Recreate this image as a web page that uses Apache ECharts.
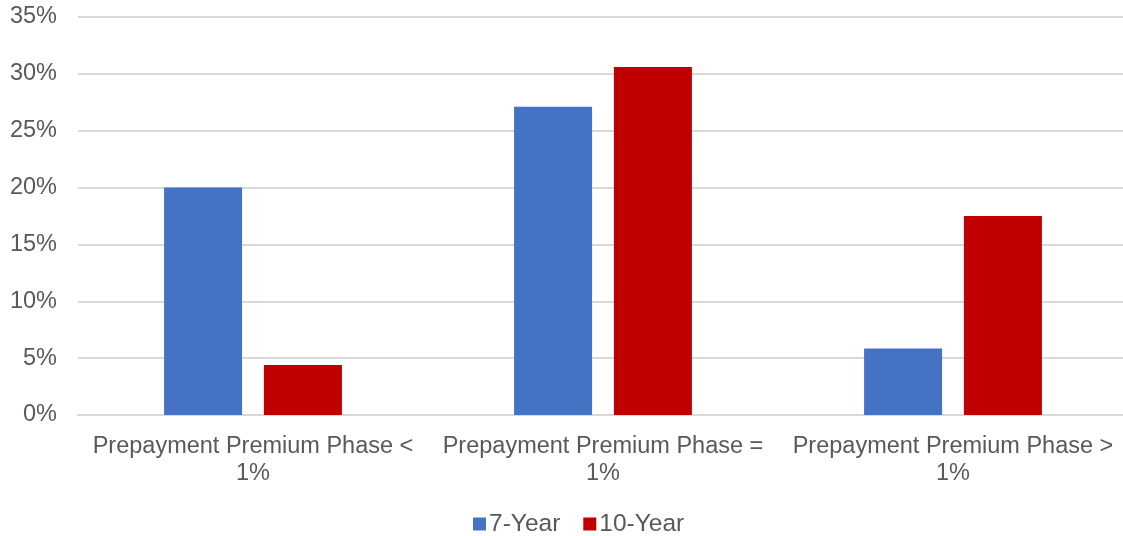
<!DOCTYPE html>
<html>
<head>
<meta charset="utf-8">
<script src="https://cdn.jsdelivr.net/npm/echarts@6/dist/echarts.min.js"></script>
<style>
  html, body { margin: 0; padding: 0; background: #fff; }
  #chart { width: 1123px; height: 536px; }
</style>
</head>
<body>
<div id="chart"></div>
<script>
// Share of loans by prepayment premium phase
const categories = [
  'Prepayment Premium Phase <\n1%',
  'Prepayment Premium Phase =\n1%',
  'Prepayment Premium Phase >\n1%'
];
const sevenYear = [20.0, 27.1, 5.85];
const tenYear = [4.4, 30.6, 17.5];
const yTicks = [0, 5, 10, 15, 20, 25, 30, 35];

const FONT = '"Liberation Sans", Arial, sans-serif';
const TEXT = '#595959';
const SIZE = 23.5;

const chart = echarts.init(document.getElementById('chart'), null, { renderer: 'canvas' });
chart.setOption({
  animation: false,
  grid: { left: 78, width: 1050, top: 17, bottom: 121, outerBoundsMode: 'none', containLabel: false },
  legend: {
    top: 505,
    left: 468,
    icon: 'rect',
    itemWidth: 13,
    itemHeight: 13,
    itemGap: 23,
    textStyle: { fontFamily: FONT, fontSize: 24.5, color: TEXT, lineHeight: 28, padding: [0, 0, 0, -2] },
    data: ['7-Year', '10-Year']
  },
  xAxis: {
    type: 'category',
    data: categories,
    axisLine: { show: true, lineStyle: { color: '#d9d9d9', width: 2 } },
    axisTick: { show: false },
    axisLabel: {
      fontFamily: FONT, fontSize: SIZE, color: TEXT,
      lineHeight: 27, margin: 18, interval: 0, align: 'center'
    }
  },
  yAxis: {
    type: 'value',
    min: yTicks[0],
    max: yTicks[yTicks.length - 1],
    interval: 5,
    axisLine: { show: false },
    axisTick: { show: false },
    splitLine: { lineStyle: { color: '#d9d9d9', width: 2 } },
    axisLabel: {
      fontFamily: FONT, fontSize: SIZE, color: TEXT, margin: 21,
      padding: [4, 0, 0, 0],
      formatter: v => v + '%'
    }
  },
  series: [
    {
      name: '7-Year', type: 'bar', data: sevenYear,
      barWidth: 78, barGap: '28%',
      itemStyle: { color: '#4472c4' }
    },
    {
      name: '10-Year', type: 'bar', data: tenYear,
      barWidth: 78, barGap: '28%',
      itemStyle: { color: '#c00000' }
    }
  ]
});
</script>
</body>
</html>
